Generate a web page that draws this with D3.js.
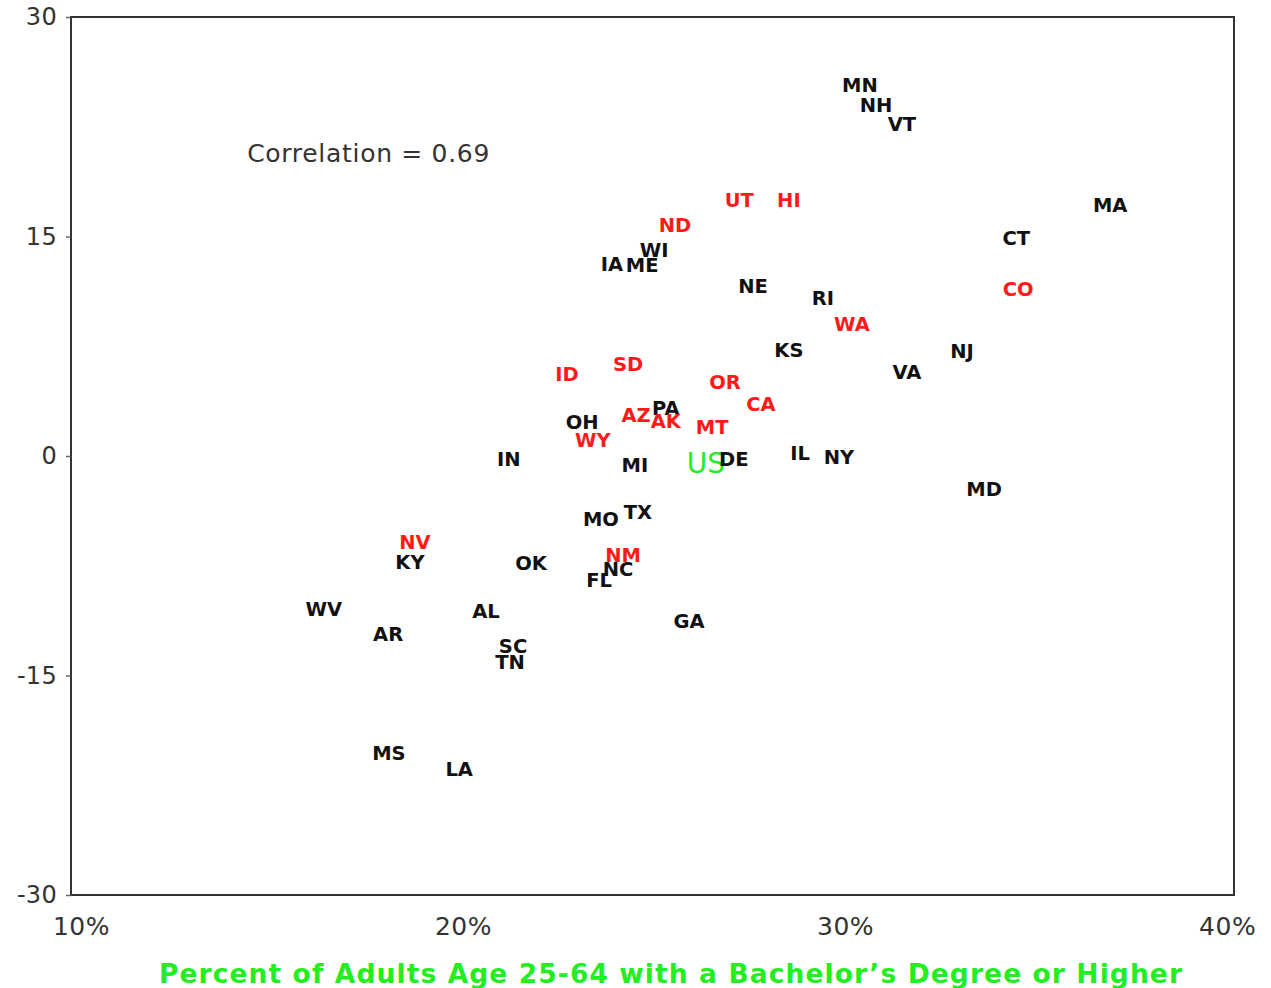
<!DOCTYPE html>
<html>
<head>
<meta charset="utf-8">
<script src="https://cdn.jsdelivr.net/npm/d3@7"></script>
<style>
  html, body { margin: 0; padding: 0; background: #fff; }
  svg { display: block; }
</style>
</head>
<body>
<svg id="chart" width="1271" height="988"></svg>
<script>
// Data (state, % adults 25-64 with bachelor's degree, y value)
const states = ["MN","NH","VT","HI","MA","CT","CO","RI","WA","KS","NJ","VA","NE","UT","ND","WI","IA","ME","ID","SD","OR","CA","PA","AZ","AK","MT","OH","WY","MI","US","DE","IL","NY","IN","MD","MO","TX","NM","NC","FL","OK","AL","GA","SC","TN","NV","KY","WV","AR","MS","LA"];
const xValues = [30.39,30.81,31.49,28.53,36.94,34.48,34.53,29.42,30.18,28.53,33.06,31.62,27.59,27.23,25.55,25.00,23.90,24.69,22.72,24.32,26.86,27.80,25.31,24.53,25.31,26.52,23.12,23.40,24.50,26.36,27.09,28.82,29.84,21.20,33.64,23.61,24.58,24.19,24.06,23.56,21.78,20.60,25.92,21.31,21.23,18.74,18.61,16.36,18.04,18.06,19.90];
const yValues = [25.35,23.92,22.62,17.49,17.15,14.83,11.41,10.73,9.02,7.24,7.11,5.74,11.55,17.49,15.72,14.01,13.12,13.05,5.60,6.22,4.99,3.49,3.28,2.80,2.39,1.98,2.26,1.03,-0.68,-0.48,-0.21,0.14,-0.07,-0.21,-2.26,-4.31,-3.83,-6.77,-7.79,-8.54,-7.38,-10.66,-11.28,-13.05,-14.08,-5.88,-7.31,-10.52,-12.23,-20.30,-21.39];
const redStates = ["UT","HI","ND","CO","WA","ID","SD","OR","CA","AZ","AK","MT","WY","NV","NM"];
const xTicks = [10, 20, 30, 40];
const yTicks = [-30, -15, 0, 15, 30];
const correlationText = "Correlation = 0.69";
const xTitle = "Percent of Adults Age 25-64 with a Bachelor’s Degree or Higher";

const svg = d3.select("#chart");
const plotLeft = 71, plotRight = 1234, plotTop = 17, plotBottom = 895;

const x = d3.scaleLinear().domain([9.74, 40.18]).range([plotLeft, plotRight]);
const y = d3.scaleLinear().domain([-30, 30]).range([plotBottom, plotTop]);

const font = "'DejaVu Sans', Verdana, sans-serif";
const axisColor = "#333";

// Frame
svg.append("rect")
  .attr("x", plotLeft).attr("y", plotTop)
  .attr("width", plotRight - plotLeft).attr("height", plotBottom - plotTop)
  .attr("fill", "none").attr("stroke", axisColor).attr("stroke-width", 2);

// Y axis
const yAxis = svg.append("g")
  .attr("transform", `translate(${plotLeft},0)`)
  .call(d3.axisLeft(y).tickValues(yTicks).tickSize(5).tickPadding(9).tickFormat(d => String(d)));
yAxis.select(".domain").remove();
yAxis.selectAll(".tick line").attr("stroke", "#666").attr("stroke-width", 1.5);
yAxis.selectAll(".tick text")
  .attr("font-family", font).attr("font-size", 24).attr("letter-spacing", 0.3).attr("fill", axisColor);

// X axis (labels only)
const xAxis = svg.append("g")
  .attr("transform", `translate(0,${plotBottom})`)
  .call(d3.axisBottom(x).tickValues(xTicks).tickSize(0).tickPadding(22).tickFormat(d => d + "%"));
xAxis.select(".domain").remove();
xAxis.selectAll(".tick text")
  .attr("font-family", font).attr("font-size", 25).attr("letter-spacing", 0.5).attr("fill", axisColor);

// Correlation annotation
svg.append("text")
  .attr("x", x(14.35)).attr("y", y(20.65))
  .attr("font-family", font).attr("font-size", 25).attr("letter-spacing", 0.7).attr("fill", axisColor)
  .attr("dominant-baseline", "central")
  .text(correlationText);

// State labels
const data = states.map((s, i) => ({ s, x: xValues[i], y: yValues[i] }));
svg.append("g").selectAll("text")
  .data(data)
  .join("text")
  .attr("x", d => x(d.x))
  .attr("y", d => y(d.y))
  .attr("text-anchor", "middle")
  .attr("dominant-baseline", "central")
  .attr("font-family", font)
  .attr("font-weight", d => d.s === "US" ? "normal" : "bold")
  .attr("font-size", d => d.s === "US" ? 28 : 19.5)
  .attr("fill", d => d.s === "US" ? "#22ee22" : (redStates.includes(d.s) ? "#ff1a1a" : "#111"))
  .text(d => d.s);

// X axis title
svg.append("text")
  .attr("x", 671)
  .attr("y", 973)
  .attr("text-anchor", "middle")
  .attr("dominant-baseline", "central")
  .attr("font-family", font).attr("font-weight", "bold").attr("font-size", 26.5).attr("letter-spacing", 1.1)
  .attr("fill", "#22ee22")
  .text(xTitle);
</script>
</body>
</html>
